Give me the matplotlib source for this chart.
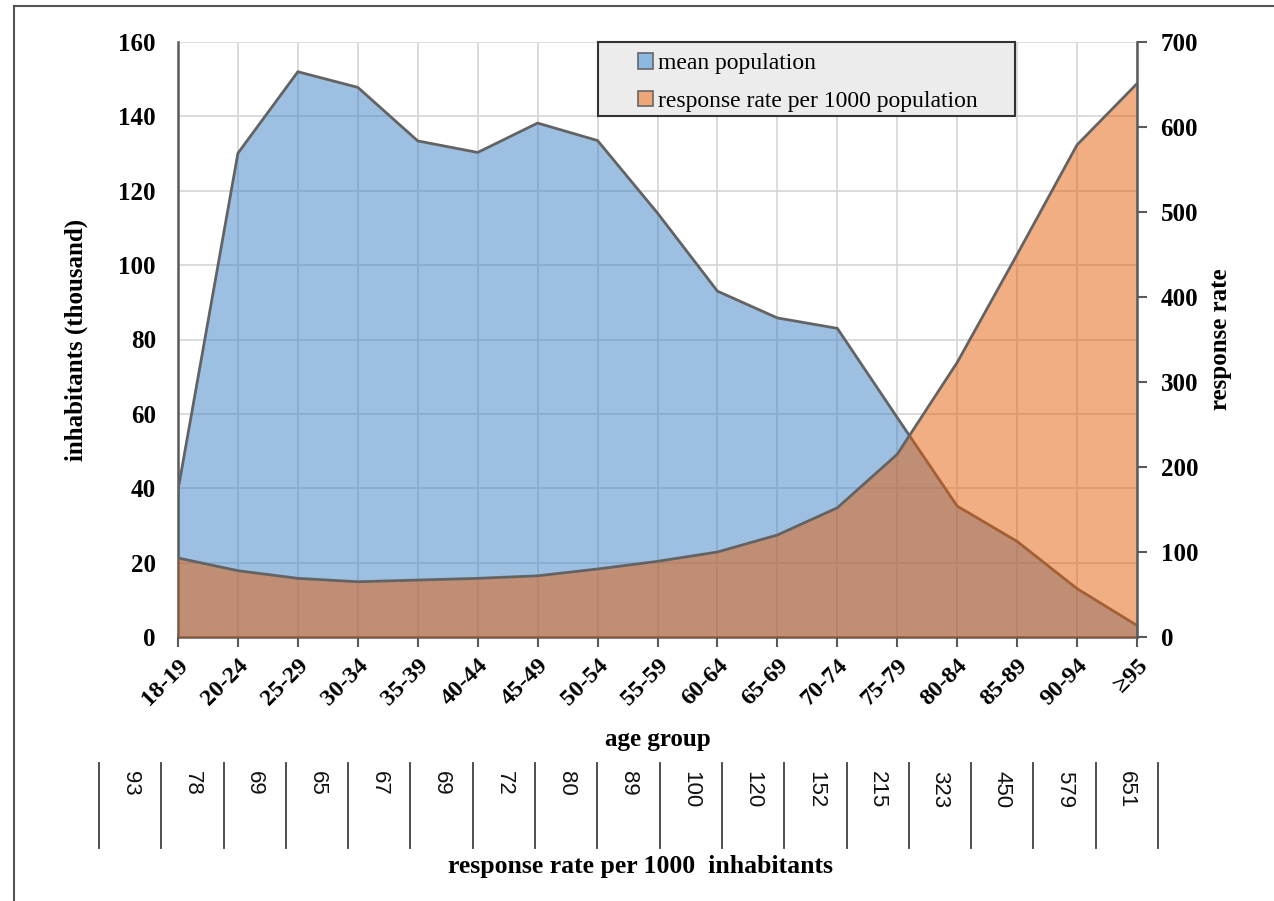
import matplotlib
matplotlib.use('Agg')
import matplotlib.pyplot as plt
from matplotlib.patches import Rectangle, Patch
from matplotlib.lines import Line2D
import numpy as np

# ---------------- data ----------------
age_groups = ['18-19', '20-24', '25-29', '30-34', '35-39', '40-44', '45-49', '50-54',
              '55-59', '60-64', '65-69', '70-74', '75-79', '80-84', '85-89', '90-94', '≥95']
mean_population = [39.5, 130.1, 152.0, 147.8, 133.4, 130.3, 138.2, 133.5,
                   114.0, 93.0, 85.8, 83.0, 59.0, 35.2, 25.7, 13.0, 3.1]
response_rate = [93, 78, 69, 65, 67, 69, 72, 80, 89, 100, 120, 152, 215, 323, 450, 579, 651]
left_ticks = [0, 20, 40, 60, 80, 100, 120, 140, 160]
right_ticks = [0, 100, 200, 300, 400, 500, 600, 700]

# ---------------- style ----------------
plt.rcParams['font.family'] = ['Liberation Serif', 'DejaVu Serif']
W, H = 1274, 901
BLUE = '#3C82C6'
ORANGE = '#E45E08'
EDGE = '#636363'
SPINE = '#595959'

fig = plt.figure(figsize=(W / 100, H / 100), dpi=100)
ax_l, ax_r, ax_t, ax_b = 178, 1137, 42, 637
ax = fig.add_axes([ax_l / W, 1 - ax_b / H, (ax_r - ax_l) / W, (ax_b - ax_t) / H])

x = np.arange(len(age_groups))
ax.fill_between(x, mean_population, 0, color=BLUE, alpha=0.5, lw=0, zorder=2)
ax.plot(x, mean_population, color=EDGE, lw=2, zorder=3, solid_joinstyle='miter')
ax.set_xlim(0, len(age_groups) - 1)
ax.set_ylim(left_ticks[0], left_ticks[-1])
ax.grid(True, color='#d9d9d9', lw=1.3, zorder=0)
ax.set_axisbelow(True)

ax.set_yticks(left_ticks, labels=[str(t) for t in left_ticks], fontsize=18, fontweight='bold')
ax.set_xticks(x, labels=age_groups, rotation=45, ha='right', va='top',
              rotation_mode='anchor', fontsize=17.5, fontweight='bold')
ax.tick_params(axis='y', length=0, pad=16)
ax.tick_params(axis='x', length=7, width=1.5, color=SPINE, pad=6)

for s in ['top', 'right']:
    ax.spines[s].set_visible(False)
for s in ['left', 'bottom']:
    ax.spines[s].set_color(SPINE)
    ax.spines[s].set_linewidth(1.8)

ax.set_ylabel('inhabitants (thousand)', fontsize=18, fontweight='bold', labelpad=22)
ax.set_xlabel('age group', fontsize=18, fontweight='bold', labelpad=13)

ax2 = ax.twinx()
ax2.fill_between(x, response_rate, 0, color=ORANGE, alpha=0.5, lw=0, zorder=2)
ax2.plot(x, response_rate, color=EDGE, lw=2, zorder=3, solid_joinstyle='miter')
ax2.set_ylim(right_ticks[0], right_ticks[-1])
ax2.set_yticks(right_ticks, labels=[str(t) for t in right_ticks], fontsize=18, fontweight='bold')
ax2.tick_params(axis='y', length=7, width=1.5, color=SPINE, pad=10)
for s in ['top', 'left', 'bottom']:
    ax2.spines[s].set_visible(False)
ax2.spines['right'].set_color(SPINE)
ax2.spines['right'].set_linewidth(1.8)
ax2.set_ylabel('response rate', fontsize=18, fontweight='bold', labelpad=8)

# ---------------- legend ----------------
box = Rectangle((598 / W, 1 - 116 / H), (1015 - 598) / W, (116 - 42) / H,
                transform=fig.transFigure, facecolor='#ececec', edgecolor='#333333',
                lw=1.5, zorder=8)
fig.add_artist(box)
handles = [Patch(facecolor='#8DB8E2', edgecolor='#666666', lw=1.2),
           Patch(facecolor='#EFA677', edgecolor='#666666', lw=1.2)]
leg = fig.legend(handles, ['mean population', 'response rate per 1000 population'],
                 loc='upper left', bbox_to_anchor=(638 / W, 1 - 53 / H),
                 bbox_transform=fig.transFigure, frameon=False, fontsize=17,
                 handlelength=0.65, handleheight=0.65, handletextpad=0.2,
                 labelspacing=0.7, borderpad=0, borderaxespad=0)
leg.set_zorder(10)

# ---------------- bottom table ----------------
tx0, tx1 = 99, 1158
ty0, ty1 = 763, 848
n = len(response_rate)
step = (tx1 - tx0) / n
for i in range(n + 1):
    xx = (tx0 + i * step) / W
    fig.add_artist(Line2D([xx, xx], [1 - ty0 / H, 1 - ty1 / H], color='#404040', lw=1.3,
                          transform=fig.transFigure))
for i, v in enumerate(response_rate):
    xc = (tx0 + (i + 0.5) * step) / W
    fig.text(xc, 1 - 771 / H, str(v), rotation=-90, ha='center', va='top',
             fontsize=16, family=['Liberation Sans', 'DejaVu Sans'], color='#111111')
fig.text(640 / W, 1 - 866 / H, 'response rate per 1000  inhabitants', ha='center',
         va='center', fontsize=18.5, fontweight='bold')

# ---------------- outer frame ----------------
fig.add_artist(Line2D([14 / W, 14 / W], [1 - 6 / H, 0], color='#555555', lw=1.5,
                      transform=fig.transFigure))
fig.add_artist(Line2D([14 / W, 1], [1 - 6 / H, 1 - 6 / H], color='#555555', lw=1.5,
                      transform=fig.transFigure))

fig.savefig('out.png', dpi=100)
